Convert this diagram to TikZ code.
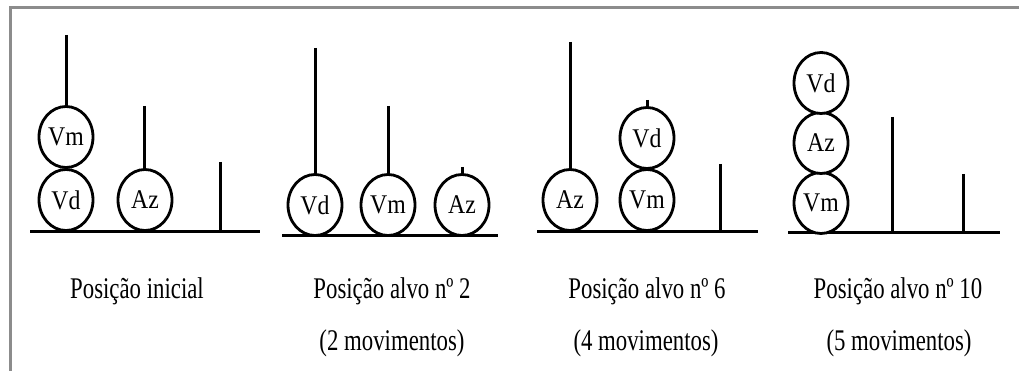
\documentclass[tikz,border=0pt]{standalone}
\usepackage{fontspec}
\setmainfont{Liberation Serif}
\usetikzlibrary{shapes.geometric}
\newcommand{\bt}[1]{\scalebox{0.88}[1]{#1}}
\newcommand{\cp}[1]{\scalebox{0.76}[1]{#1}}
\begin{document}
\begin{tikzpicture}[x=1pt,y=-1pt,
  ball/.style={ellipse,draw,line width=2.8pt,fill=white,minimum width=54pt,minimum height=61pt,inner sep=0pt,font=\fontsize{27}{27}\selectfont},
  peg/.style={line width=3pt},
  ground/.style={line width=3pt},
  frameline/.style={draw=black!45,line width=3pt},
  lbl/.style={anchor=base,inner sep=0pt,font=\fontsize{30}{30}\selectfont}]
\useasboundingbox (0,0) rectangle (1019,371);
\draw[frameline] (10,371) -- (10,8) -- (1019,8);

% ---------- panel 1 ----------
\draw[ground] (30,232) -- (260,232);
\draw[peg] (66,35) -- (66,232);
\draw[peg] (144,106) -- (144,232);
\draw[peg] (220,162) -- (220,232);
\node[ball] (p1vd) at (66,200) {\bt{Vd}};
\node[ball] (p1vm) at (66,137) {\bt{Vm}};
\node[ball] (p1az) at (145,200) {\bt{Az}};

% ---------- panel 2 ----------
\draw[ground] (282,236) -- (498,236);
\draw[peg] (315,48) -- (315,236);
\draw[peg] (388,106) -- (388,236);
\draw[peg] (462,167) -- (462,236);
\node[ball] (p2vd) at (315,205) {\bt{Vd}};
\node[ball] (p2vm) at (388,205) {\bt{Vm}};
\node[ball] (p2az) at (462,205) {\bt{Az}};

% ---------- panel 3 ----------
\draw[ground] (537,232) -- (758,232);
\draw[peg] (570,42) -- (570,232);
\draw[peg] (647,100) -- (647,232);
\draw[peg] (720,164) -- (720,232);
\node[ball] (p3az) at (570,200) {\bt{Az}};
\node[ball] (p3vm) at (647,200) {\bt{Vm}};
\node[ball] (p3vd) at (647,138) {\bt{Vd}};

% ---------- panel 4 ----------
\draw[ground] (788,233) -- (1000,233);
\draw[peg] (821,51) -- (821,233);
\draw[peg] (892,117) -- (892,233);
\draw[peg] (963,174) -- (963,233);
\node[ball] (p4vm) at (821,203) {\bt{Vm}};
\node[ball] (p4az) at (821,143) {\bt{Az}};
\node[ball] (p4vd) at (821,83) {\bt{Vd}};

% ---------- captions ----------
\node[lbl] (c1) at (137,298) {\cp{Posição inicial}};
\node[lbl] (c2) at (392,298) {\cp{Posição alvo nº 2}};
\node[lbl] (c2b) at (392,350) {\cp{(2 movimentos)}};
\node[lbl] (c3) at (647,298) {\cp{Posição alvo nº 6}};
\node[lbl] (c3b) at (646,350) {\cp{(4 movimentos)}};
\node[lbl] (c4) at (898,298) {\cp{Posição alvo nº 10}};
\node[lbl] (c4b) at (899,350) {\cp{(5 movimentos)}};
\end{tikzpicture}
\end{document}
